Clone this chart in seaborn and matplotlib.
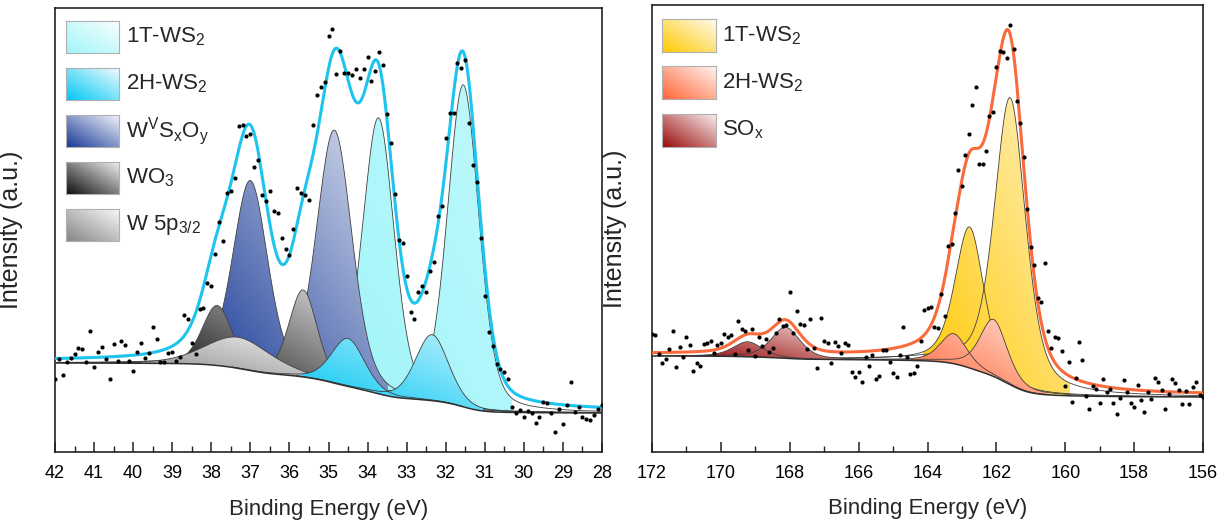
import numpy as np
import pandas as pd
import matplotlib
matplotlib.use("Agg")
import matplotlib.pyplot as plt
import matplotlib.transforms as mtransforms
from matplotlib.patches import PathPatch
from matplotlib.colors import to_rgb
from matplotlib.ticker import MultipleLocator
import seaborn as sns

# ------------------------------------------------------------------ data
# W 4f region (left panel): measured counts on a 0.1 eV grid from 42.0 eV down
w_start, w_step = 42.0, 0.1
w_counts = [73, 93, 77, 90, 94, 98, 104, 103, 90, 121, 85, 100, 105, 93, 73, 108, 91, 111, 107, 91,
            81, 100, 109, 94, 99, 125, 113, 90, 90, 99, 100, 91, 95, 137, 133, 109, 98, 143, 144, 169,
            166, 198, 230, 211, 259, 261, 274, 326, 327, 316, 318, 285, 292, 257, 251, 261, 241, 239, 214, 203,
            197, 223, 264, 259, 257, 252, 327, 357, 365, 370, 416,
            423, 378, 401, 379, 379, 377, 383, 374, 383, 395, 371, 381, 400, 387, 338, 309, 258, 212, 209, 176,
            140, 133, 160, 166, 160, 181, 190, 236, 246, 314, 339, 339, 389, 384, 392, 329, 287, 270, 214, 156,
            120, 106, 88, 83, 80, 73, 45, 39, 42, 35, 41, 39, 29, 35, 50, 49, 39, 20, 43, 28,
            47, 70, 40, 45, 35, 33, 32, 37, 43, 47]
w_bg_high, w_bg_low = 89, 39
w_labels = ["1T-WS$_2$", "2H-WS$_2$", r"W$^{\mathrm{V}}$S$_{\mathrm{x}}$O$_{\mathrm{y}}$", "WO$_3$", r"W 5p$_{3/2}$"]
w_colors = ["#9ff5f9", "#00c6f4", "#163896", "#0d0d0d", "#858585"]
w_fade = [0.35, 0.75, 0.85, 0.85, 0.9]
w_centers = [[31.55, 33.72], [32.35, 34.50], [34.85, 37.00], [37.85, 35.65], [37.30]]
w_heights = [[322, 276], [66, 48], [253, 190], [60, 87], [31]]
w_fwhm = [[0.95, 0.95], [1.00, 1.00], [1.07, 1.05], [0.90, 0.85], [2.00]]
w_order = [0, 2, 3, 4, 1]
w_ticks = list(range(42, 27, -1))

# S 2p region (right panel): measured counts on a 0.1 eV grid from 172.0 eV down
s_start, s_step = 172.0, 0.1
s_counts = [118, 117, 98, 89, 93, 103, 121, 85, 105, 95, 115, 107, 81, 89, 86, 108, 109, 111, 99, 107,
            109, 118, 115, 117, 98, 131, 123, 121, 102, 123, 96, 115, 106, 113, 100, 104, 119, 133, 126, 127,
            160, 119, 141, 128, 127, 103, 133, 104, 84, 134, 111, 109, 89, 110, 106, 99, 109, 107, 80, 75,
            80, 70, 95, 86, 97, 73, 76, 102, 102, 90, 79, 75, 97, 125, 95, 78, 79, 86, 111, 142,
            144, 145, 125, 124, 158, 136, 206,
            208, 239, 282, 266, 297, 318, 347, 365, 288, 288, 301, 336, 340, 385, 401, 400, 394, 427, 403, 351,
            329, 295, 243, 205, 187, 154, 150, 189, 121, 104, 115, 114, 101, 66, 90, 50, 74, 110, 92, 56,
            43, 66, 63, 49, 73, 60, 63, 49, 38, 54, 72, 60, 49, 45, 67, 52, 40, 60, 53, 74,
            70, 62, 43, 58, 73, 69, 62, 48, 61, 48, 65, 70, 57, 55]
s_bg_high, s_bg_low = 96, 55
s_labels = ["1T-WS$_2$", "2H-WS$_2$", "SO$_{\mathrm{x}}$"]
s_colors = ["#ffc800", "#ff6334", "#9a0a0a"]
s_fade = [0.8, 0.8, 0.85]
s_centers = [[161.60, 162.78], [162.08, 163.24], [168.12, 169.22]]
s_heights = [[287, 141], [57, 30], [31, 15]]
s_fwhm = [[1.08, 1.00], [0.95, 0.92], [1.00, 1.00]]
s_order = [0, 1, 2]
s_ticks = list(range(172, 155, -2))

# ------------------------------------------------------------------ style
sns.set_theme(style="ticks")
plt.rcParams["font.family"] = ["Liberation Sans", "DejaVu Sans"]
plt.rcParams["mathtext.fontset"] = "custom"
plt.rcParams["mathtext.rm"] = "Liberation Sans"
plt.rcParams["mathtext.it"] = "Liberation Sans:italic"
plt.rcParams["mathtext.bf"] = "Liberation Sans:bold"

fig = plt.figure(figsize=(12.25, 5.27), dpi=100)
axL = fig.add_axes([55 / 1225, 75 / 527, 547 / 1225, 444 / 527])
axR = fig.add_axes([652 / 1225, 75 / 527, 551 / 1225, 447 / 527])


def pvoigt(x, c, h, w, a):
    d = (x - c) / w
    return h * ((1 - a) * np.exp(-4 * np.log(2) * d ** 2) + a / (1 + 4 * d ** 2))


def gradient(base, fade, n=200):
    u = np.linspace(0, 1, n)
    U, V = np.meshgrid(u, u)
    t = 0.5 * (U + V) * fade
    rgb = np.array(to_rgb(base))
    return rgb[None, None, :] * (1 - t[..., None]) + t[..., None]


def panel(ax, start, step, counts, bg_hi, bg_lo, labels, colors, fades, centers, heights,
          fwhm, order, lfrac, env_scale, env_color, ticks, minor, ylim, leg_box):
    e_pts = start - step * np.arange(len(counts))
    e_lo, e_hi = e_pts.min(), e_pts.max()
    E = np.linspace(e_lo, e_hi, 1600)
    peaks = []
    for cs, hs, ws in zip(centers, heights, fwhm):
        peaks.append([pvoigt(E, c, h, w, lfrac) for c, h, w in zip(cs, hs, ws)])
    total = np.sum([p for grp in peaks for p in grp], axis=0)
    cum = np.concatenate([[0], np.cumsum(0.5 * (total[1:] + total[:-1]) * np.diff(E))])
    bg = bg_lo + (bg_hi - bg_lo) * cum / cum[-1]

    for rank, i in enumerate(order):
        comp = np.sum(peaks[i], axis=0)
        core = comp > 0.05 * comp.max()
        ext = [E[core].max(), E[core].min(), bg[core].min(), (bg + comp)[core].max()]
        grad = gradient(colors[i], fades[i])
        z = 2 + rank * 0.5
        for p in peaks[i]:
            m = p > 0.4
            x, lo, hi = E[m], bg[m], (bg + p)[m]
            poly = ax.fill_between(x, lo, hi, facecolor="none", edgecolor="none")
            patch = PathPatch(poly.get_paths()[0], transform=ax.transData, facecolor="none",
                              edgecolor="none")
            ax.add_patch(patch)
            im = ax.imshow(grad, origin="lower", aspect="auto", extent=ext,
                           interpolation="bilinear", zorder=z)
            im.set_clip_path(patch)
            ax.plot(x, hi, color="#404040", lw=0.6, zorder=z + 0.1)
    ax.plot(E, bg, color="#303030", lw=1.1, zorder=6)

    env = bg + env_scale * total
    shift = mtransforms.ScaledTranslation(0, 1.5 / 72, fig.dpi_scale_trans)
    df_env = pd.DataFrame({"E": E, "I": env})
    sns.lineplot(data=df_env, x="E", y="I", ax=ax, color=env_color, lw=2.2, sort=False,
                 estimator=None, zorder=8, transform=ax.transData + shift)
    df_pts = pd.DataFrame({"E": e_pts, "I": counts})
    sns.scatterplot(data=df_pts, x="E", y="I", ax=ax, color="black", s=9, linewidth=0,
                    zorder=10, clip_on=True)

    ax.set_xlim(e_hi, e_lo)
    ax.set_ylim(*ylim)
    ax.set_xticks(ticks)
    ax.set_xticklabels([str(t) for t in ticks])
    ax.xaxis.set_minor_locator(MultipleLocator(minor))
    ax.set_yticks([])
    ax.tick_params(axis="x", which="major", direction="in", length=7, width=1.1,
                   labelsize=13, pad=9, colors="#222222", labelcolor="black")
    ax.tick_params(axis="x", which="minor", direction="in", length=4, width=1.0,
                   colors="#222222")
    for s in ax.spines.values():
        s.set_linewidth(1.2)
        s.set_color("#222222")
    ax.set_xlabel("Binding Energy (eV)", fontsize=16)
    ax.set_ylabel("Intensity (a.u.)", fontsize=18)

    # legend with gradient swatches
    x0, y0, w, h, dy, tx = leg_box
    for j, (lab, col) in enumerate(zip(labels, colors)):
        yy = y0 - j * dy
        sw = ax.inset_axes([x0, yy, w, h])
        sw.imshow(gradient(col, 0.95), origin="lower", aspect="auto", interpolation="bilinear")
        sw.set_xticks([])
        sw.set_yticks([])
        for s in sw.spines.values():
            s.set_color("#b0b0b0")
            s.set_linewidth(0.8)
        ax.text(tx, yy + h / 2, lab, transform=ax.transAxes, fontsize=16, va="center",
                ha="left", zorder=20)


panel(axL, w_start, w_step, w_counts, w_bg_high, w_bg_low, w_labels, w_colors, w_fade,
      w_centers, w_heights, w_fwhm, w_order, 0.3, 1.03, "#1cc4ee", w_ticks, 0.5, (0, 444),
      (0.020, 0.899, 0.097, 0.072, 0.106, 0.130))
panel(axR, s_start, s_step, s_counts, s_bg_high, s_bg_low, s_labels, s_colors, s_fade,
      s_centers, s_heights, s_fwhm, s_order, 0.5, 1.06, "#f96a3c", s_ticks, 1, (0, 447),
      (0.018, 0.895, 0.098, 0.074, 0.106, 0.127))

axL.xaxis.set_label_coords(0.5, -0.105)
axR.xaxis.set_label_coords(0.5, -0.104)
axL.yaxis.set_label_coords(-0.058, 0.5)
axR.yaxis.set_label_coords(-0.045, 0.5)

fig.savefig("out.png", dpi=100)
